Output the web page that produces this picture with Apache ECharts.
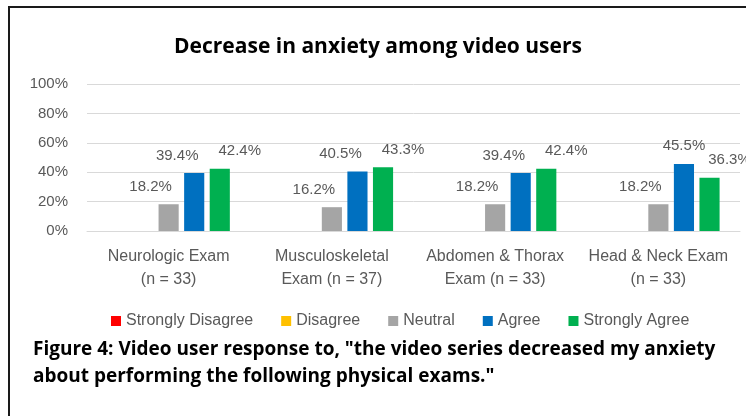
<!DOCTYPE html>
<html>
<head>
<meta charset="utf-8">
<script src="https://cdn.jsdelivr.net/npm/echarts@6/dist/echarts.min.js"></script>
<style>
html,body{margin:0;padding:0;background:#fff;}
#chart{width:746px;height:416px;}
</style>
</head>
<body>
<div id="chart"></div>
<script>
var categories = ['Neurologic Exam\n(n = 33)', 'Musculoskeletal\nExam (n = 37)', 'Abdomen & Thorax\nExam (n = 33)', 'Head & Neck Exam\n(n = 33)'];
var seriesNames = ['Strongly Disagree', 'Disagree', 'Neutral', 'Agree', 'Strongly Agree'];
var stronglyDisagree = [0, 0, 0, 0];
var disagree = [0, 0, 0, 0];
var neutral = [18.2, 16.2, 18.2, 18.2];
var agree = [39.4, 40.5, 39.4, 45.5];
var stronglyAgree = [42.4, 43.3, 42.4, 36.3];
var titleText = 'Decrease in anxiety among video users';
var captionLines = ['Figure 4: Video user response to, "the video series decreased my anxiety', 'about performing the following physical exams."'];

var FONT = '"Liberation Sans", Arial, sans-serif';
var BOLDFONT = '"Open Sans", "Liberation Sans", Arial, sans-serif';
var colors = ['#ff0000', '#ffc000', '#a5a5a5', '#0070c0', '#00b050'];
var allData = [stronglyDisagree, disagree, neutral, agree, stronglyAgree];
var labelOffsets = [[0, 0], [0, 0], [-18, -5], [-17, -5], [20, -5]];

var series = seriesNames.map(function (name, i) {
  var data = allData[i].map(function (v, j) {
    if (i === 3 && j === 3) {
      return { value: v, label: { offset: [0, -6] } };
    }
    return v;
  });
  return {
    name: name,
    type: 'bar',
    data: data,
    barGap: '27%',
    barCategoryGap: '25%',
    itemStyle: { color: colors[i] },
    label: {
      show: i >= 2,
      position: 'top',
      distance: 5,
      offset: labelOffsets[i],
      color: '#595959',
      fontFamily: FONT,
      fontSize: 15,
      formatter: function (p) { return p.value.toFixed(1) + '%'; }
    }
  };
});

var chart = echarts.init(document.getElementById('chart'), null, { renderer: 'canvas' });
chart.setOption({
  animation: false,
  backgroundColor: '#ffffff',
  grid: { left: 87, right: 6, top: 84, bottom: 185, containLabel: false },
  legend: {
    data: seriesNames,
    left: 111,
    top: 313,
    padding: 0,
    itemWidth: 10,
    itemHeight: 10,
    itemGap: 28,
    icon: 'rect',
    textStyle: { color: '#595959', fontFamily: FONT, fontSize: 16 }
  },
  xAxis: {
    type: 'category',
    data: categories,
    axisLine: { lineStyle: { color: '#d9d9d9', width: 1 } },
    axisTick: { show: false },
    axisLabel: {
      interval: 0,
      margin: 14,
      color: '#595959',
      fontFamily: FONT,
      fontSize: 16,
      lineHeight: 23
    }
  },
  yAxis: {
    type: 'value',
    min: 0,
    max: 100,
    interval: 20,
    axisLine: { show: false },
    axisTick: { show: false },
    splitLine: { lineStyle: { color: '#d9d9d9', width: 1 } },
    axisLabel: {
      margin: 19,
      color: '#595959',
      fontFamily: FONT,
      fontSize: 15,
      formatter: '{value}%'
    }
  },
  series: series,
  graphic: [
    { type: 'line', shape: { x1: 9, y1: 7, x2: 9, y2: 416 }, style: { stroke: '#1a1a1a', lineWidth: 2 } },
    { type: 'line', shape: { x1: 8, y1: 7, x2: 746, y2: 7 }, style: { stroke: '#1a1a1a', lineWidth: 2 } },
    { type: 'text', x: 378, y: 47, style: { text: titleText, fill: '#000', font: 'bold 21px ' + BOLDFONT, textAlign: 'center', textVerticalAlign: 'middle' } },
    { type: 'text', x: 33, y: 350, style: { text: captionLines[0], fill: '#000', font: 'bold 19px ' + BOLDFONT, textAlign: 'left', textVerticalAlign: 'middle' } },
    { type: 'text', x: 33, y: 377, style: { text: captionLines[1], fill: '#000', font: 'bold 19px ' + BOLDFONT, textAlign: 'left', textVerticalAlign: 'middle' } }
  ]
});
</script>
</body>
</html>
